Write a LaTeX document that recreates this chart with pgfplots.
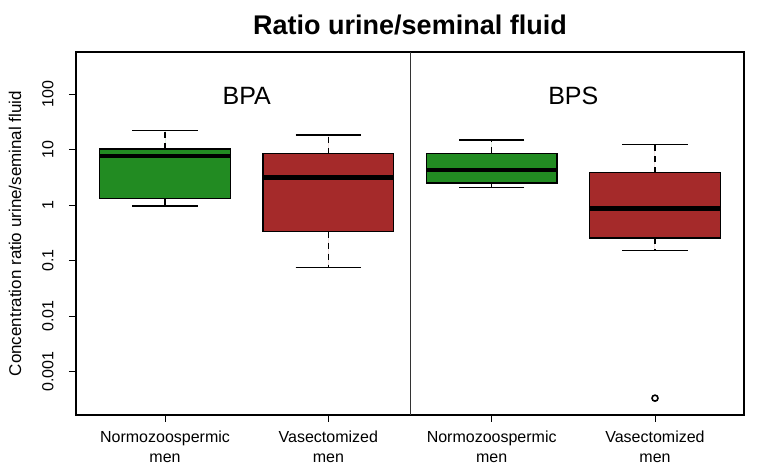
\documentclass[border=0pt]{standalone}
\usepackage{fontspec}
\setmainfont{Liberation Sans}
\usepackage{pgfplots}
\pgfplotsset{compat=1.18}
\usepgfplotslibrary{statistics}
\definecolor{rgreen}{RGB}{34,139,34}
\definecolor{rred}{RGB}{165,42,42}

\pgfplotsset{
  rbox/.style={
    draw=black, line width=1.2pt, solid,
    boxplot/draw direction=y,
    boxplot/every median/.style={line width=4.5pt},
    boxplot/draw/lower whisker/.code={%
      \draw[dash pattern=on 6pt off 5pt]
        (boxplot box cs:\pgfplotsboxplotvalue{lower quartile},0.5)
        -- (boxplot box cs:\pgfplotsboxplotvalue{lower whisker},0.5);
      \draw (boxplot whisker cs:\pgfplotsboxplotvalue{lower whisker},0)
        -- (boxplot whisker cs:\pgfplotsboxplotvalue{lower whisker},1);
    },
    boxplot/draw/upper whisker/.code={%
      \draw[dash pattern=on 6pt off 5pt]
        (boxplot box cs:\pgfplotsboxplotvalue{upper quartile},0.5)
        -- (boxplot box cs:\pgfplotsboxplotvalue{upper whisker},0.5);
      \draw (boxplot whisker cs:\pgfplotsboxplotvalue{upper whisker},0)
        -- (boxplot whisker cs:\pgfplotsboxplotvalue{upper whisker},1);
    },
  },
}

\begin{document}
\begin{tikzpicture}
\begin{axis}[
  scale only axis,
  width=668pt, height=363pt,
  xmin=0.455, xmax=4.545,
  ymode=log, ymin=0.000164, ymax=571,
  axis line style={line width=1.6pt},
  xtick={1,2,3,4},
  xticklabels={Normozoospermic\\men, Vasectomized\\men, Normozoospermic\\men, Vasectomized\\men},
  xticklabel style={align=center, font=\fontsize{16}{20}\selectfont, yshift=-5pt},
  ytick={0.001,0.01,0.1,1,10,100},
  yticklabels={0.001,0.01,0.1,1,10,100},
  yticklabel style={xshift=-12pt, rotate=90, anchor=south, font=\fontsize{16}{19}\selectfont},
  yminorticks=false, xminorticks=false,
  xtick pos=bottom, ytick pos=left,
  tick align=outside, major tick length=7pt,
  tick style={black, line width=0.8pt},
  ylabel={Concentration ratio urine/seminal fluid},
  ylabel style={font=\fontsize{17}{19}\selectfont, yshift=14pt},
  title={Ratio urine/seminal fluid},
  title style={font=\fontsize{27}{30}\selectfont\bfseries, yshift=7pt},
  boxplot/box extend=0.8,
  boxplot/whisker extend=0.4,
]
\draw[line width=0.8pt, black!80] (axis cs:2.5,0.000164) -- (axis cs:2.5,571);

% BPA
\addplot[rbox, fill=rgreen, boxplot prepared={draw position=1,
  lower whisker=0.96, lower quartile=1.30, median=7.6,
  upper quartile=10.2, upper whisker=21.8}] coordinates {};
\addplot[rbox, fill=rred, boxplot prepared={draw position=2,
  lower whisker=0.074, lower quartile=0.33, median=3.1,
  upper quartile=8.4, upper whisker=18.2}] coordinates {};
% BPS
\addplot[rbox, fill=rgreen, boxplot prepared={draw position=3,
  lower whisker=2.08, lower quartile=2.49, median=4.3,
  upper quartile=8.6, upper whisker=14.8}] coordinates {};
\addplot[rbox, fill=rred, boxplot prepared={draw position=4,
  lower whisker=0.150, lower quartile=0.254, median=0.86,
  upper quartile=3.82, upper whisker=12.4},
  mark=o, mark size=3pt, mark options={line width=1.6pt, fill=white}]
  table[row sep=\\, y index=0] {y\\ 0.00033\\};

\node[font=\fontsize{25}{28}\selectfont] at (axis cs:1.5,94) {BPA};
\node[font=\fontsize{25}{28}\selectfont] at (axis cs:3.5,94) {BPS};
\end{axis}
\pgfresetboundingbox
\path[use as bounding box] (current axis.south west) ++(-76pt,-58pt) rectangle ++(759pt,473pt);
\end{tikzpicture}
\end{document}
